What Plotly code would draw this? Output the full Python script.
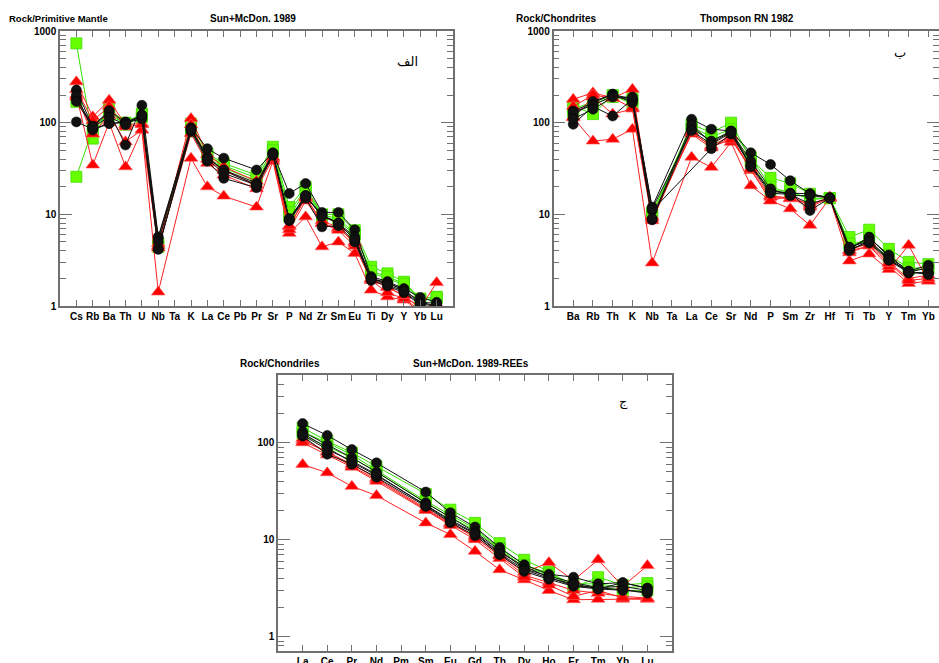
import math
import plotly.graph_objects as go

# ---------------- Panel الف : Rock / Primitive Mantle (Sun+McDon. 1989) ----------------
cats_a = ["Cs", "Rb", "Ba", "Th", "U", "Nb", "Ta", "K", "La", "Ce", "Pb", "Pr", "Sr",
          "P", "Nd", "Zr", "Sm", "Eu", "Ti", "Dy", "Y", "Yb", "Lu"]
green_a = [
    [733, 67, 143, 100, 126, 4.6, None, 98, 46, 36, None, 26.8, 54.6, 12, 20, 10, 10, 6.7, 2.68, 2.27, 1.84, 1.2, 1.26],
    [25.7, 85, 130, 95, 115, 4.4, None, 80, 42, 32, None, 23, 48, 9.5, 18, 9.5, 8.5, 6.0, 2.3, 2.0, 1.7, 1.15, 1.2],
    [169, 95, 120, 98, 120, 4.8, None, 85, 45, 34, None, 25, 50, 10.5, 19, 9.8, 9, 6.2, 2.4, 2.1, 1.75, 1.2, 1.25],
]
red_a = [
    [279, 116, 176, 95, 98, 4.5, None, 111, 45, 33, None, 23, 42, 7.3, 15.5, 8, 7, 5.0, 2.0, 1.6, 1.3, 0.95, 1.8],
    [200, 34.5, 100, 33, 83, 1.42, None, 40.9, 20, 15.8, None, 12, 38, 6.2, 9.4, 4.43, 5.0, 3.75, 1.49, 1.26, 1.16, 0.87, 0.87],
    [190, 75, 120, 62, 83, 4.3, None, 76, 36, 26.8, None, 19, 40, 6.8, 14, 8, 6.7, 4.5, 1.9, 1.4, 1.2, 0.9, 0.9],
    [230, 105, 150, 90, 95, 4.8, None, 95, 40, 30, None, 21, 42, 7.5, 15, 8.5, 7.2, 4.8, 1.95, 1.6, 1.3, 0.95, 1.05],
]
black_a = [
    [102, 85, 98, 102, 115, 4.15, None, 86, 41, 30.5, None, 22, 46, 9, 16, 9.8, 8, 5.3, 2.0, 1.8, 1.5, 1.1, 1.0],
    [227, 90, 131, 57, 155, 5.7, None, 88, 52, 41, None, 30.5, 47, 16.9, 21.7, 10.5, 10.5, 6.8, 2.1, 1.85, 1.55, 1.24, 1.1],
    [184, 92, 135, 100, 121, 5.5, None, 85, 42, 30, None, 21, 46, 8.7, 15.5, 9.8, 8, 5.7, 2.0, 1.77, 1.5, 1.1, 1.07],
    [200, 83, 98, 100, 110, 4.2, None, 80, 38, 24.7, None, 19.5, 44, 8.5, 15, 7.3, 7.5, 5.0, 1.9, 1.65, 1.4, 1.03, 0.9],
    [170, 90, 115, 95, 121, 5.0, None, 84, 40, 28, None, 20.8, 45, 8.8, 16, 9.5, 8, 5.3, 2.0, 1.7, 1.45, 1.05, 1.0],
]

# ---------------- Panel ب : Rock / Chondrites (Thompson RN 1982) ----------------
cats_b = ["Ba", "Rb", "Th", "K", "Nb", "Ta", "La", "Ce", "Sr", "Nd", "P", "Sm", "Zr",
          "Hf", "Ti", "Tb", "Y", "Tm", "Yb"]
green_b = [
    [152, 124, 200, 159, 10.1, None, 96, 78, 100, 40, 25, 21.8, 16.8, 15.1, 5.65, 6.8, 4.2, 3.03, 2.86],
    [140, 170, 195, 175, 9.5, None, 90, 70, 85, 42, 20, 17, 15, 15, 4.5, 5.5, 3.6, 2.6, 2.6],
    [125, 160, 190, 185, 10.5, None, 85, 65, 78, 36, 18, 18, 14.5, 15, 4.8, 5.0, 3.3, 2.5, 2.5],
]
red_b = [
    [180, 212, 187, 231, 9.5, None, 75, 53, 70, 30, 15.4, 14.8, 13, 15.1, 4.06, 4.87, 3.0, 2.0, 2.17],
    [113, 63, 66, 85, 2.95, None, 42, 32.6, 61, 20.5, 14.1, 11.5, 7.6, 15, 3.1, 3.7, 2.5, 4.6, 1.87],
    [115, 190, 124, 141, 8.5, None, 80, 55, 65, 32, 16, 15, 12, 15.1, 4.0, 4.5, 2.7, 1.76, 1.87],
    [150, 200, 185, 145, 9, None, 78, 56, 72, 31, 14, 16, 12.5, 15.5, 3.8, 4.6, 2.9, 1.9, 2.0],
]
black_b = [
    [134, 165, 204, 180, 12, None, 109, 85, 81, 47, 35, 23.3, 16.8, 15.1, 4.2, 5.65, 3.43, 2.4, 2.79],
    [96, 150, 118, 180, 8.7, None, 87, 63, 81, 34, 17.9, 17, 11, 15.1, 4.2, 4.87, 3.16, 2.3, 2.3],
    [120, 170, 205, 165, 11, None, None, 52, 75, 34, 18, 17, 16.8, 15.1, 4.0, 5.2, 3.3, 2.3, 2.3],
    [130, 155, 195, 175, 9, None, 95, 60, 80, 38, 19, 16, 16, 15.1, 4.3, 5.5, 3.6, 2.35, 2.6],
    [110, 140, 190, 190, 11.5, None, 82, 58, 78, 33, 17, 16.5, 13, 15, 4.4, 5.1, 3.2, 2.4, 2.2],
]

# ---------------- Panel ج : Rock / Chondrites (Sun+McDon. 1989-REEs) ----------------
cats_c = ["La", "Ce", "Pr", "Nd", "Pm", "Sm", "Eu", "Gd", "Tb", "Dy", "Ho", "Er", "Tm", "Yb", "Lu"]
green_c = [
    [143, 104, 79, 57, None, 29.7, 20.4, 14.9, 9.2, 6.2, 4.7, 3.2, 4.1, 3.4, 3.57],
    [130, 100, 75, 52, None, 25, 18, 13, 8.2, 5.5, 4.5, 3.5, 3.5, 3.2, 3.3],
    [120, 92, 70, 50, None, 24, 17, 12.5, 8, 5.2, 4.4, 3.3, 3.3, 3.0, 3.0],
]
red_c = [
    [104, 81, 57, 41.7, None, 20.4, 14.5, 11, 7, 4.6, 5.8, 3.8, 6.2, 3.3, 5.4],
    [59.7, 49, 35.5, 28.5, None, 14.9, 11.3, 7.6, 4.9, 3.85, 2.99, 2.4, 2.43, 2.43, 2.43],
    [110, 80, 60, 43, None, 21, 15, 10.5, 6.8, 4.3, 3.6, 3.0, 2.8, 2.6, 2.5],
    [100, 75, 56, 40, None, 20, 14, 10, 6.4, 4.1, 3.4, 2.6, 3.0, 2.5, 2.45],
]
black_c = [
    [158, 119, 85, 62, None, 31, 19, 13.5, 8.3, 5.5, 4.4, 4.1, 3.5, 3.6, 3.16],
    [125, 89, 63, 46, None, 23, 16, 11.7, 7.4, 5.3, 4.1, 3.34, 3.16, 3.04, 2.8],
    [117, 76, 60, 44, None, 22, 15, 11, 7.0, 4.7, 3.9, 3.3, 3.1, 3.6, 3.16],
    [130, 95, 70, 50, None, 24, 17, 12, 7.8, 5.0, 4.2, 3.6, 3.2, 3.3, 3.0],
    [120, 85, 65, 47, None, 22.5, 15.5, 11.5, 7.2, 4.9, 4.0, 3.5, 3.1, 3.0, 2.9],
]

# ---------------- styling ----------------
STYLE = {
    "green": dict(line=dict(color="#33e000", width=1),
                  marker=dict(symbol="square", size=11, color="#66ff00",
                              line=dict(color="#44dd00", width=0.8))),
    "red": dict(line=dict(color="#ff2020", width=1),
                marker=dict(symbol="triangle-up", size=12, color="#ff0000",
                            line=dict(color="#ff6060", width=0.6))),
    "black": dict(line=dict(color="#111111", width=1),
                  marker=dict(symbol="circle", size=10, color="#111111",
                              line=dict(color="#000000", width=0.5))),
}

FONT = "Liberation Sans, Arial, sans-serif"
fig = go.Figure()

panels = [
    (cats_a, {"green": green_a, "red": red_a, "black": black_a}, "x", "y"),
    (cats_b, {"green": green_b, "red": red_b, "black": black_b}, "x2", "y2"),
    (cats_c, {"green": green_c, "red": red_c, "black": black_c}, "x3", "y3"),
]
for cats, groups, xa, ya in panels:
    for grp in ["green", "red", "black"]:
        for series in groups[grp]:
            fig.add_trace(go.Scatter(x=cats, y=series, mode="lines+markers",
                                     connectgaps=True, xaxis=xa, yaxis=ya,
                                     showlegend=False, **STYLE[grp]))

W, H = 939, 663
AXC = "#707070"
TICKFONT = dict(family=FONT, size=10, color="black", weight="bold")


def fx(px):
    return min(max(px / W, 0), 1)


def fy(py):
    return min(max(1 - py / H, 0), 1)


def xax(px0, px1, cats, anchor, rmax=None):
    return dict(domain=[fx(px0), fx(px1)], anchor=anchor, type="category",
                range=[-1, len(cats) if rmax is None else rmax],
                ticks="inside", ticklen=6, tickcolor=AXC, tickwidth=1,
                showline=True, linewidth=1.5, linecolor=AXC, mirror="ticks",
                showgrid=False, zeroline=False, tickfont=TICKFONT)


def yax(py0, py1, lo, hi, minor_vals, anchor):
    major = [v for v in [1, 10, 100, 1000] if lo <= v <= hi]
    return dict(domain=[fy(py1), fy(py0)], anchor=anchor, type="log",
                range=[math.log10(lo), math.log10(hi)],
                tickmode="array", tickvals=major, ticktext=[str(v) for v in major],
                ticks="inside", ticklen=12, tickcolor=AXC, tickwidth=1,
                showline=True, linewidth=1.5, linecolor=AXC, mirror="ticks",
                minor=dict(tickmode="array", tickvals=minor_vals, ticks="inside",
                           ticklen=6, tickcolor=AXC),
                showgrid=False, zeroline=False, automargin=False, tickfont=TICKFONT)


minor_ab = [m * d for d in (1, 10, 100) for m in range(2, 10)]
minor_c = [0.8, 0.9] + [m * d for d in (1, 10) for m in range(2, 10)] + [200, 300, 400]

fig.update_layout(
    width=W, height=H, margin=dict(l=0, r=0, t=0, b=0, autoexpand=False),
    paper_bgcolor="white", plot_bgcolor="white",
    xaxis=dict(xax(60, 453, cats_a, "y"), automargin=False),
    yaxis=yax(31, 306, 1, 1000, minor_ab, "x"),
    xaxis2=dict(xax(553.5, 939, cats_b, "y2", rmax=18.54), automargin=False),
    yaxis2=yax(31, 306, 1, 1000, minor_ab, "x2"),
    xaxis3=dict(xax(278, 672, cats_c, "y3"), automargin=False),
    yaxis3=yax(375, 651, 0.71, 500, minor_c, "x3"),
)

tfont = dict(family=FONT, size=10, color="black")
afont = dict(family="DejaVu Sans, Noto Sans", size=13, color="black")
annots = [
    ("<b>Rock/Primitive Mantle</b>", 7, 18, "left", dict(tfont, size=9.5)),
    ("<b>Sun+McDon. 1989</b>", 253, 18, "center", tfont),
    ("<b>Rock/Chondrites</b>", 514, 18, "left", tfont),
    ("<b>Thompson RN 1982</b>", 747, 18, "center", tfont),
    ("<b>Rock/Chondriles</b>", 238, 363, "left", tfont),
    ("<b>Sun+McDon. 1989-REEs</b>", 471, 363, "center", tfont),
    ("الف", 407, 61, "center", afont),
    ("ب", 900, 53, "center", afont),
    ("ج", 623, 402, "center", afont),
]
for text, px, py, align, f in annots:
    fig.add_annotation(text=text, x=fx(px), y=fy(py), xref="paper", yref="paper",
                       xanchor=align, yanchor="middle", showarrow=False, font=f)

fig.write_html("out.html", config={"displayModeBar": False},
               post_script="document.body.style.margin='0';")
